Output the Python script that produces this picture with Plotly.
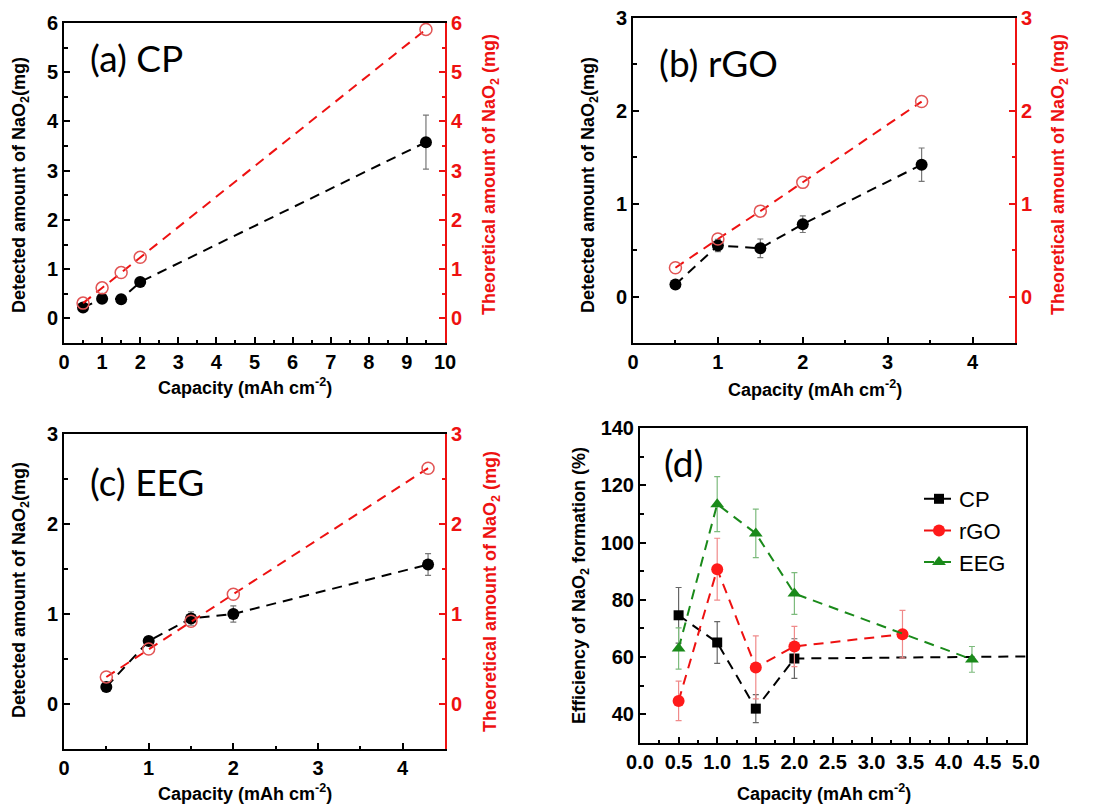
import plotly.graph_objects as go

# ---------------- data ----------------
# (a) CP
cap_a = [0.5, 1.0, 1.5, 2.0, 9.5]
det_a = [0.22, 0.40, 0.39, 0.74, 3.58]
det_a_err = [0, 0, 0, 0, 0.55]
theo_a = [0.31, 0.62, 0.93, 1.24, 5.87]

# (b) rGO
cap_b = [0.5, 1.0, 1.5, 2.0, 3.4]
det_b = [0.13, 0.55, 0.52, 0.78, 1.42]
det_b_err = [0, 0.065, 0.10, 0.09, 0.18]
theo_b = [0.31, 0.62, 0.92, 1.23, 2.10]

# (c) EEG
cap_c = [0.5, 1.0, 1.5, 2.0, 4.3]
det_c = [0.19, 0.70, 0.95, 1.00, 1.55]
det_c_err = [0, 0, 0.075, 0.09, 0.12]
theo_c = [0.30, 0.61, 0.92, 1.22, 2.62]

# (d) efficiency of NaO2 formation (%)
eff_cp_x = [0.5, 1.0, 1.5, 2.0, 9.5]
eff_cp = [74.6, 65.1, 42.0, 59.5, 61.3]
eff_cp_err = [9.7, 7.3, 4.9, 6.9, 0]
eff_rgo_x = [0.5, 1.0, 1.5, 2.0, 3.4]
eff_rgo = [44.7, 90.7, 56.4, 63.7, 68.0]
eff_rgo_err = [6.9, 10.8, 11.0, 7.0, 8.3]
eff_eeg_x = [0.5, 1.0, 1.5, 2.0, 4.3]
eff_eeg = [63.0, 113.4, 103.2, 82.2, 59.2]
eff_eeg_err = [7.2, 9.6, 8.5, 7.3, 4.5]

# ---------------- style ----------------
W, H = 1094, 805
FONT = "Liberation Sans"
RED = "#ee1111"
RED_OPEN = "#e25555"
GREEN = "#1a8a1a"
DASH = "10px,7px"


def px_x(a, b):
    return [a / W, b / W]


def px_y(top, bottom):
    return [1 - bottom / H, 1 - top / H]


tickfont_k = dict(family=FONT, size=20, color="black", weight="bold")
tickfont_r = dict(family=FONT, size=20, color=RED, weight="bold")


def xaxis(domain, rng, dtick, mdtick, anchor, fmt=None):
    d = dict(domain=domain, range=rng, tick0=0, dtick=dtick, ticks="inside",
             ticklen=6, tickwidth=1.5, tickcolor="black",
             minor=dict(ticks="inside", tick0=0, dtick=mdtick, ticklen=3.5,
                        tickwidth=1.5, tickcolor="black"),
             showline=True, linecolor="black", linewidth=2, mirror=True,
             showgrid=False, zeroline=False, tickfont=tickfont_k, anchor=anchor,
             automargin=False)
    if fmt:
        d["tickformat"] = fmt
    return d


def yaxis(domain, rng, dtick, mdtick, anchor, mirror=False):
    return dict(domain=domain, range=rng, tick0=0, dtick=dtick, ticks="inside",
                ticklen=6, tickwidth=1.5, tickcolor="black",
                minor=dict(ticks="inside", tick0=0, dtick=mdtick, ticklen=3.5,
                           tickwidth=1.5, tickcolor="black"),
                showline=True, linecolor="black", linewidth=2, mirror=mirror,
                showgrid=False, zeroline=False, tickfont=tickfont_k, anchor=anchor,
                automargin=False)


def yaxis_right(rng, dtick, mdtick, anchor, overlay):
    return dict(range=rng, tick0=0, dtick=dtick, ticks="inside",
                ticklen=6, tickwidth=1.5, tickcolor=RED,
                minor=dict(ticks="inside", tick0=0, dtick=mdtick, ticklen=3.5,
                           tickwidth=1.5, tickcolor=RED),
                showline=True, linecolor=RED, linewidth=2, side="right",
                overlaying=overlay, showgrid=False, zeroline=False,
                tickfont=tickfont_r, anchor=anchor, automargin=False)


fig = go.Figure()


def add_panel(cap, det, err, theo, xa, ya, ya2):
    fig.add_trace(go.Scatter(
        x=cap, y=theo, xaxis=xa, yaxis=ya2, mode="lines+markers",
        line=dict(color=RED, width=2, dash=DASH),
        marker=dict(symbol="circle-open", size=12, color=RED_OPEN,
                    line=dict(width=1.5, color=RED_OPEN)),
        showlegend=False))
    fig.add_trace(go.Scatter(
        x=cap, y=det, xaxis=xa, yaxis=ya, mode="lines+markers",
        line=dict(color="black", width=2, dash=DASH),
        marker=dict(symbol="circle", size=12, color="black"),
        error_y=dict(type="data", array=err, color="#777777", thickness=1.2, width=3),
        showlegend=False))


add_panel(cap_a, det_a, det_a_err, theo_a, "x", "y", "y2")
add_panel(cap_b, det_b, det_b_err, theo_b, "x2", "y3", "y4")
add_panel(cap_c, det_c, det_c_err, theo_c, "x3", "y5", "y6")

# panel (d)
fig.add_trace(go.Scatter(
    x=eff_cp_x, y=eff_cp, xaxis="x4", yaxis="y7", mode="lines+markers", name="CP",
    line=dict(color="black", width=2, dash=DASH),
    marker=dict(symbol="square", size=10, color="black"),
    error_y=dict(type="data", array=eff_cp_err, color="#666666", thickness=1.2, width=3)))
fig.add_trace(go.Scatter(
    x=eff_rgo_x, y=eff_rgo, xaxis="x4", yaxis="y7", mode="lines+markers", name="rGO",
    line=dict(color=RED, width=2, dash=DASH),
    marker=dict(symbol="circle", size=12, color="#ff1a1a"),
    error_y=dict(type="data", array=eff_rgo_err, color="#f08a8a", thickness=1.2, width=3)))
fig.add_trace(go.Scatter(
    x=eff_eeg_x, y=eff_eeg, xaxis="x4", yaxis="y7", mode="lines+markers", name="EEG",
    line=dict(color=GREEN, width=2, dash=DASH),
    marker=dict(symbol="triangle-up", size=12, color=GREEN),
    error_y=dict(type="data", array=eff_eeg_err, color="#7dbb7d", thickness=1.2, width=3)))

dom_a = (px_x(64, 445), px_y(23, 343))
dom_b = (px_x(633, 1015), px_y(18, 343))
dom_c = (px_x(64, 445), px_y(434, 749))
dom_d = (px_x(640, 1026), px_y(428, 743))

fig.update_layout(
    width=W, height=H, margin=dict(l=0, r=0, t=0, b=0),
    paper_bgcolor="white", plot_bgcolor="white",
    xaxis=xaxis(dom_a[0], [0, 10], 1, 0.5, "y"),
    yaxis=yaxis(dom_a[1], [-0.5, 6], 1, 0.5, "x"),
    yaxis2=yaxis_right([-0.5, 6], 1, 0.5, "x", "y"),
    xaxis2=xaxis(dom_b[0], [0, 4.5], 1, 0.5, "y3"),
    yaxis3=yaxis(dom_b[1], [-0.5, 3], 1, 0.5, "x2"),
    yaxis4=yaxis_right([-0.5, 3], 1, 0.5, "x2", "y3"),
    xaxis3=xaxis(dom_c[0], [0, 4.5], 1, 0.5, "y5"),
    yaxis5=yaxis(dom_c[1], [-0.5, 3], 1, 0.5, "x3"),
    yaxis6=yaxis_right([-0.5, 3], 1, 0.5, "x3", "y5"),
    xaxis4=xaxis(dom_d[0], [0, 5], 0.5, 0.25, "y7", fmt=".1f"),
    yaxis7=yaxis(dom_d[1], [30, 140], 20, 10, "x4", mirror=True),
    legend=dict(x=919 / W, y=1 - 478 / H, xanchor="left", yanchor="top",
                font=dict(family=FONT, size=22, color="black"),
                bgcolor="rgba(0,0,0,0)", itemwidth=30, tracegroupgap=0),
)

ann = []


def title(text, x, y, angle=0, color="black", size=18, bold=True, family=FONT):
    t = f"<b>{text}</b>" if bold else text
    ann.append(dict(text=t, x=x / W, y=1 - y / H, xref="paper", yref="paper",
                    showarrow=False, textangle=angle, xanchor="center", yanchor="middle",
                    font=dict(family=family, size=size, color=color)))


cap_title = "Capacity (mAh cm<sup>-2</sup>)"
det_title = "Detected amount of NaO<sub>2</sub>(mg)"
theo_title = "Theoretical amount of NaO<sub>2</sub> (mg)"

# panel (a)
title(cap_title, 245, 387)
title(det_title, 20, 185, angle=-90)
title(theo_title, 491, 175, angle=-90, color=RED)
# panel (b)
title(cap_title, 815, 388)
title(det_title, 589, 185, angle=-90)
title(theo_title, 1060, 175, angle=-90, color=RED)
# panel (c)
title(cap_title, 245, 792)
title(det_title, 20, 590, angle=-90)
title(theo_title, 491, 592, angle=-90, color=RED)
# panel (d)
title(cap_title, 824, 792)
title("Efficiency of NaO<sub>2</sub> formation (%)", 580, 586, angle=-90)

# panel labels
for txt, x, y in [("(a) CP", 88, 58), ("(b) rGO", 657, 63), ("(c) EEG", 88, 482), ("(d)", 662, 462)]:
    ann.append(dict(text=txt, x=x / W, y=1 - y / H, xref="paper", yref="paper",
                    showarrow=False, xanchor="left", yanchor="middle",
                    font=dict(family="Lato", size=37, color="black")))

fig.update_layout(annotations=ann)

fig.write_html("out.html", config={"displayModeBar": False},
               post_script="document.body.style.margin='0';document.body.style.overflow='hidden';")
